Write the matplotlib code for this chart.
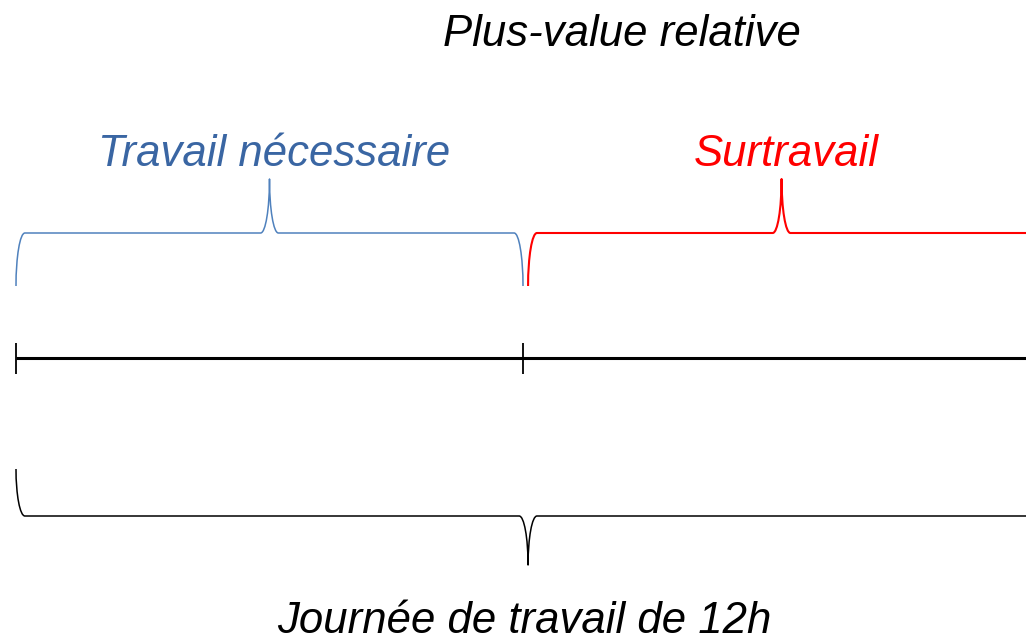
import matplotlib.pyplot as plt
from matplotlib.path import Path
from matplotlib.patches import PathPatch

# journée de travail découpée en heures
segment_labels = ["Travail nécessaire", "Surtravail"]
segment_hours = [6, 6]
segment_colors = ["#4F81BD", "#FF0000"]
label_colors = ["#3A66A3", "#FF0000"]
title = "Plus-value relative"
total_label = "Journée de travail de 12h"

PX_PER_HOUR = 84.5
X0_PX = 16
K = 0.552
FS = 31.5

plt.rcParams['font.family'] = ['Liberation Sans', 'DejaVu Sans']


def brace(ax, x0, x1, y_end, y_flat, y_tip, color, lw, r=0.105):
    """accolade façon Word: extrémités en quart d'ellipse, pointe au milieu"""
    xm = (x0 + x1) / 2
    verts, codes = [], []

    def quarter(p_start, c1, c2, p_end, first=False):
        if first:
            verts.append(p_start)
            codes.append(Path.MOVETO)
        verts.extend([c1, c2, p_end])
        codes.extend([Path.CURVE4] * 3)

    def line(p):
        verts.append(p)
        codes.append(Path.LINETO)

    # extrémité gauche
    quarter((x0, y_end), (x0, y_end + K * (y_flat - y_end)),
            (x0 + r * (1 - K), y_flat), (x0 + r, y_flat), first=True)
    line((xm - r, y_flat))
    # pointe
    quarter(None, (xm - r * (1 - K), y_flat), (xm, y_tip + K * (y_flat - y_tip)),
            (xm, y_tip))
    quarter(None, (xm, y_tip + K * (y_flat - y_tip)), (xm + r * (1 - K), y_flat),
            (xm + r, y_flat))
    line((x1 - r, y_flat))
    # extrémité droite
    quarter(None, (x1 - r * (1 - K), y_flat), (x1, y_end + K * (y_flat - y_end)),
            (x1, y_end))
    ax.add_patch(PathPatch(Path(verts, codes), fill=False, edgecolor=color,
                           lw=lw, capstyle='butt', joinstyle='round'))


fig = plt.figure(figsize=(10.26, 6.43), dpi=100)
ax = fig.add_axes([0, 0, 1, 1])
ax.set_xlim(-X0_PX / PX_PER_HOUR, (1026 - X0_PX) / PX_PER_HOUR)
ax.set_ylim(643, 0)
ax.axis('off')

total_hours = sum(segment_hours)
starts = [sum(segment_hours[:i]) for i in range(len(segment_hours))]

# ligne du temps
ax.plot([0, total_hours], [358, 358], color='black', lw=2.2, solid_capstyle='butt')
for h in starts + [total_hours]:
    ax.plot([h, h], [343, 374], color='black', lw=1.3, solid_capstyle='butt')

# accolades des deux parties
gap = 0.06
widths = [1.1, 1.5]
for i, (lab, hrs) in enumerate(zip(segment_labels, segment_hours)):
    a = starts[i] + gap * i
    b = a + hrs
    brace(ax, a, b, 286, 233, 179, segment_colors[i], widths[i])
    ax.text((a + b) / 2 + 0.05, 166, lab, color=label_colors[i], fontsize=FS,
            style='italic', ha='center', va='baseline')

# accolade de la journée entière
brace(ax, 0, total_hours + 2 * gap, 469, 516, 565, 'black', 1.1)
ax.text((total_hours + 2 * gap) / 2 - 0.05, 633, total_label, color='black',
        fontsize=FS, style='italic', ha='center', va='baseline')

ax.text((622 - X0_PX) / PX_PER_HOUR, 46, title, color='black', fontsize=FS,
        style='italic', ha='center', va='baseline')

fig.savefig('out.png', dpi=100)
